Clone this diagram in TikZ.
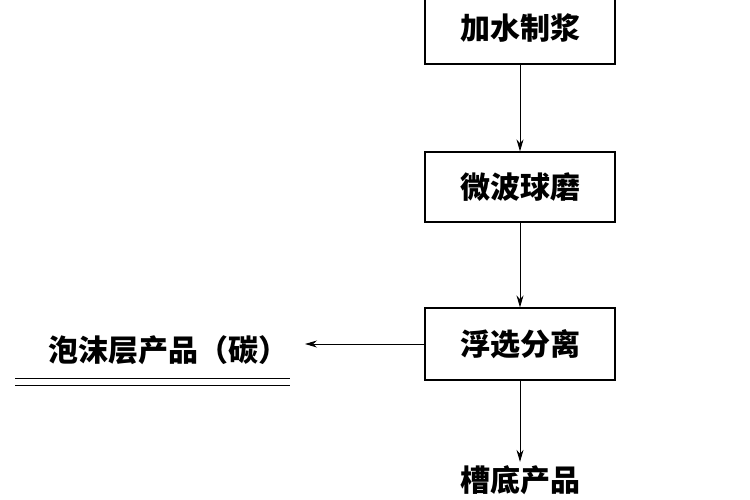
\documentclass[tikz,border=0pt]{standalone}
\usepackage{fontspec}
\newfontfamily\cjk{Noto Sans CJK SC}
\usetikzlibrary{positioning, arrows.meta}
\tikzset{
    stagebox/.style={draw,line width=1.2pt,minimum width=190pt,minimum height=70pt,font=\cjk\bfseries\fontsize{30}{32}\selectfont},
    flow/.style={-{Stealth[length=12pt,width=7pt]},line width=0.9pt},
}
\begin{document}
\begin{tikzpicture}[x=1pt,y=-1pt]
    \useasboundingbox[clip] (0,0) rectangle (750,500);
    \fill[white] (0,0) rectangle (750,500);
    % process column
    \node(slurry) [stagebox,minimum height=72pt] at (520,28) {加水制浆};
    \node(mill) [stagebox] at (520,187) {微波球磨};
    \node(float) [stagebox,minimum height=72pt] at (520,344) {浮选分离};
    \node(tail) [font=\cjk\bfseries\fontsize{30}{32}\selectfont] at (520,480) {槽底产品};
    \node(froth) [font=\cjk\bfseries\fontsize{30}{32}\selectfont,anchor=east] at (292,350) {泡沫层产品（碳）};
    \draw[flow] (slurry) -- (mill);
    \draw[flow] (mill) -- (float);
    \draw[flow] (float) -- (tail);
    \draw[flow] (float.west) -- (305,344);
    % double rule under the froth product
    \draw[line width=1pt] (15,378) -- (290,378);
    \draw[line width=1pt] (15,385) -- (290,385);
\end{tikzpicture}
\end{document}
